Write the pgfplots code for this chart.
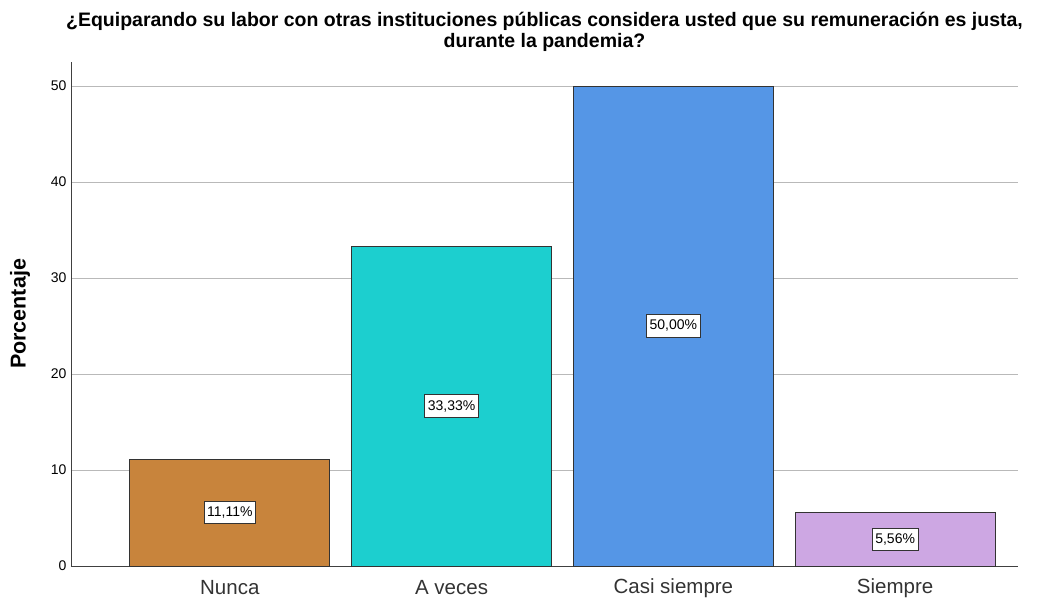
\documentclass[border=0pt]{standalone}
\usepackage{fontspec}
\setmainfont{Liberation Sans}
\usepackage{pgfplots}
\pgfplotsset{compat=1.18}
\definecolor{cNunca}{HTML}{C8843C}
\definecolor{cAveces}{HTML}{1CCFCF}
\definecolor{cCasi}{HTML}{5596E6}
\definecolor{cSiempre}{HTML}{CDA7E3}
\begin{document}
\begin{tikzpicture}
\begin{axis}[
  name=main,
  scale only axis, width=947pt, height=504pt,
  ybar, bar width=200pt, bar shift=0pt,
  xmin=-0.716, xmax=3.554, ymin=0, ymax=52.5,
  xtick={0,1,2,3},
  xticklabels={Nunca,A veces,Casi siempre,Siempre},
  ytick={0,10,20,30,40,50},
  axis x line*=bottom, axis y line*=left,
  axis line style={draw=black!75, line width=0.8pt, -},
  ymajorgrids, grid style={gray!55, line width=0.8pt},
  major tick length=0pt,
  /pgf/number format/assume math mode=true,
  yticklabel style={font=\fontsize{14}{16}\selectfont, xshift=-1pt},
  xticklabel style={font=\fontsize{20.5}{23}\selectfont, anchor=center, yshift=-22pt, text=black!80},
  clip=false,
  nodes near coords={\pgfmathprintnumber[fixed,fixed zerofill,precision=2,use comma]{\pgfplotspointmeta}\%},
  visualization depends on={rawy/2 \as \half},
  every node near coord/.append style={shift={(axis direction cs:0,-\half)}, anchor=center,
    font=\fontsize{14}{16}\selectfont, fill=white, draw=black!80, line width=0.9pt,
    inner xsep=3pt, inner ysep=5.5pt},
  every axis plot/.append style={draw=black!80, line width=0.8pt},
]
\addplot[fill=cNunca] coordinates {(0,11.11)};
\addplot[fill=cAveces] coordinates {(1,33.33)};
\addplot[fill=cCasi] coordinates {(2,50.00)};
\addplot[fill=cSiempre] coordinates {(3,5.56)};
\node[font=\bfseries\fontsize{19.5}{21}\selectfont, align=center, anchor=center]
  at ([yshift=30pt]rel axis cs:0.5,1)
  {¿Equiparando su labor con otras instituciones públicas considera usted que su remuneración es justa,\\durante la pandemia?};
\node[font=\bfseries\fontsize{21.5}{24}\selectfont, rotate=90, anchor=center]
  at ([xshift=-51pt]rel axis cs:0,0.5) {Porcentaje};
\end{axis}
\pgfresetboundingbox
\useasboundingbox ([xshift=-71pt,yshift=-35pt]main.south west) rectangle ++(1043pt,601pt);
\end{tikzpicture}
\end{document}
